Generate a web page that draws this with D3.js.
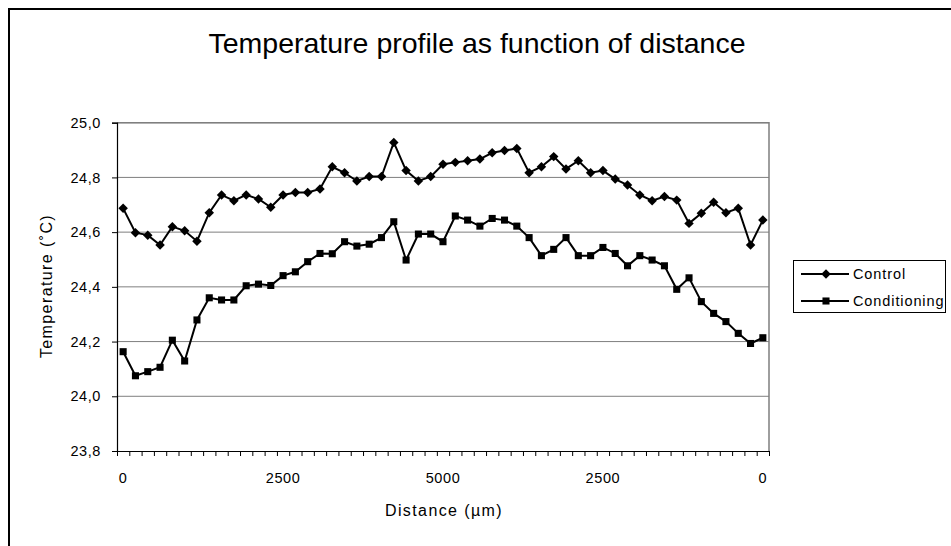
<!DOCTYPE html>
<html>
<head>
<meta charset="utf-8">
<script src="https://cdn.jsdelivr.net/npm/d3@7"></script>
<style>
  html, body { margin: 0; padding: 0; background: #fff; }
  svg { display: block; }
  text { font-family: "Liberation Sans", Arial, sans-serif; fill: #000; }
</style>
</head>
<body>
<svg id="chart" width="951" height="546"></svg>
<script>
// Temperature readings along the sample, 0 -> 5000 -> 0 µm (53 positions)
const control = [24.687, 24.598, 24.589, 24.553, 24.620, 24.605, 24.567, 24.671, 24.736, 24.715,
  24.736, 24.721, 24.691, 24.736, 24.745, 24.745, 24.758, 24.839, 24.817, 24.787,
  24.803, 24.803, 24.928, 24.825, 24.787, 24.803, 24.848, 24.855, 24.861, 24.867,
  24.890, 24.898, 24.906, 24.817, 24.839, 24.876, 24.831, 24.861, 24.817, 24.825,
  24.794, 24.772, 24.736, 24.715, 24.730, 24.717, 24.632, 24.669, 24.709, 24.671,
  24.687, 24.553, 24.644];
const conditioning = [24.163, 24.075, 24.090, 24.106, 24.205, 24.129, 24.279, 24.360, 24.352, 24.352,
  24.404, 24.410, 24.405, 24.441, 24.455, 24.492, 24.522, 24.521, 24.565, 24.549,
  24.556, 24.580, 24.638, 24.498, 24.593, 24.593, 24.565, 24.659, 24.644, 24.622,
  24.650, 24.644, 24.622, 24.580, 24.514, 24.537, 24.580, 24.514, 24.514, 24.544,
  24.522, 24.477, 24.514, 24.498, 24.477, 24.391, 24.433, 24.346, 24.303, 24.273,
  24.230, 24.193, 24.214];

// Category axis labels (shown every 13th position)
const labelIndex = [0, 13, 26, 39, 52];
const labelText = ["0", "2500", "5000", "2500", "0"];
const yTicks = [23.8, 24.0, 24.2, 24.4, 24.6, 24.8, 25.0];

const svg = d3.select("#chart");
const plotLeft = 117, plotRight = 769, plotTop = 122.7, plotBottom = 451;
const n = control.length;

// Outer chart frame
svg.append("rect").attr("x", 9).attr("y", 9).attr("width", 980).attr("height", 580)
  .attr("fill", "#fff").attr("stroke", "#000").attr("stroke-width", 2);

// Title
svg.append("text").attr("x", 477).attr("y", 53).attr("text-anchor", "middle")
  .attr("font-size", 28.5).text("Temperature profile as function of distance");

// Scales: boundaries between categories + value scale
const xb = d3.scaleLinear().domain([0, n]).range([plotLeft, plotRight]);
const xc = i => xb(i + 0.5);
const y = d3.scaleLinear().domain([23.8, 25.0]).range([plotBottom, plotTop]);

// Gridlines
svg.append("g").selectAll("line").data(yTicks.slice(1)).join("line")
  .attr("x1", plotLeft).attr("x2", plotRight)
  .attr("y1", d => y(d)).attr("y2", d => y(d))
  .attr("stroke", "#7f7f7f").attr("stroke-width", 1);

// Plot area border (top / right)
svg.append("path")
  .attr("d", `M${plotLeft},${y(25.0)}H${plotRight}V${plotBottom}`)
  .attr("fill", "none").attr("stroke", "#7f7f7f").attr("stroke-width", 1.5);

// Y axis
const fmt = d => d3.format(".1f")(d).replace(".", ",");
const yAxis = svg.append("g").attr("transform", `translate(${plotLeft},0)`)
  .call(d3.axisLeft(y).tickValues(yTicks).tickFormat(fmt).tickSize(5).tickPadding(11));
yAxis.select(".domain").attr("stroke", "#000").attr("stroke-width", 1.2);
yAxis.selectAll("text").attr("font-size", 14.5).attr("letter-spacing", 0.6)
  .style("font-family", "Liberation Sans, Arial, sans-serif");

// X axis: tick marks at category boundaries, labels at category centres
const xAxis = svg.append("g").attr("transform", `translate(0,${plotBottom})`)
  .call(d3.axisBottom(xb).tickValues(d3.range(0, n + 1)).tickFormat("").tickSize(5).tickSizeOuter(0));
xAxis.select(".domain").attr("stroke", "#000").attr("stroke-width", 1.2);
xAxis.selectAll(".tick line").attr("stroke", "#000");
svg.append("g").selectAll("text").data(labelIndex).join("text")
  .attr("x", d => xc(d)).attr("y", 483).attr("text-anchor", "middle")
  .attr("font-size", 14.5).attr("letter-spacing", 0.6)
  .text((d, i) => labelText[i]);

// Axis titles
svg.append("text").attr("x", 444).attr("y", 516).attr("text-anchor", "middle")
  .attr("font-size", 16).attr("letter-spacing", 1.4).text("Distance (µm)");
svg.append("text").attr("transform", "translate(52,286) rotate(-90)")
  .attr("text-anchor", "middle").attr("font-size", 16).attr("letter-spacing", 1.4)
  .text("Temperature (˚C)");

// Series markers: a square turned 45° and an upright square
const squareDiamond = {
  draw(ctx, size) {
    const r = Math.sqrt(size) / 2;
    ctx.moveTo(0, -r); ctx.lineTo(r, 0); ctx.lineTo(0, r); ctx.lineTo(-r, 0); ctx.closePath();
  }
};
const line = d3.line().x((d, i) => xc(i)).y(d => y(d));
const diamond = d3.symbol().type(squareDiamond).size(90);
const square = d3.symbol().type(d3.symbolSquare).size(50);

function drawSeries(data, sym) {
  svg.append("path").datum(data).attr("d", line)
    .attr("fill", "none").attr("stroke", "#000").attr("stroke-width", 2);
  svg.append("g").selectAll("path").data(data).join("path")
    .attr("transform", (d, i) => `translate(${xc(i)},${y(d)})`)
    .attr("d", sym).attr("fill", "#000");
}
drawSeries(control, diamond);
drawSeries(conditioning, square);

// Legend
const lg = svg.append("g");
lg.append("rect").attr("x", 793.5).attr("y", 260.5).attr("width", 152).attr("height", 52)
  .attr("fill", "#fff").attr("stroke", "#000").attr("stroke-width", 1);
const legendItems = [
  { name: "Control", sym: diamond, cy: 274 },
  { name: "Conditioning", sym: square, cy: 301 }
];
legendItems.forEach(it => {
  lg.append("line").attr("x1", 801).attr("x2", 849).attr("y1", it.cy).attr("y2", it.cy)
    .attr("stroke", "#000").attr("stroke-width", 2);
  lg.append("path").attr("transform", `translate(826,${it.cy})`).attr("d", it.sym).attr("fill", "#000");
  lg.append("text").attr("x", 853).attr("y", it.cy + 5).attr("font-size", 14.5)
    .attr("letter-spacing", 0.9).text(it.name);
});
</script>
</body>
</html>
